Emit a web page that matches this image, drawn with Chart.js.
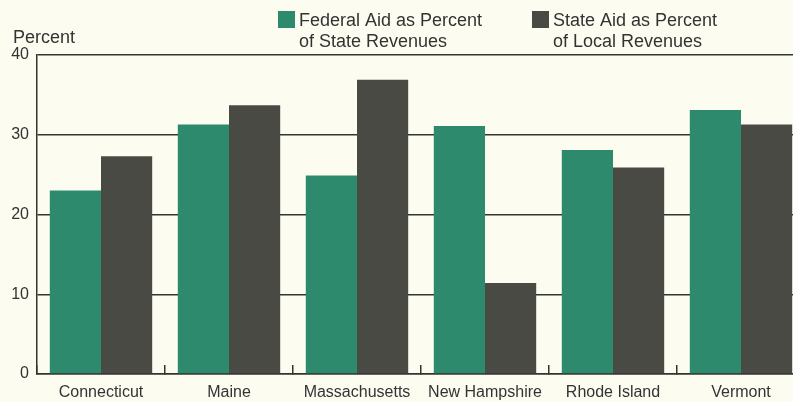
<!DOCTYPE html>
<html>
<head>
<meta charset="utf-8">
<script src="https://cdn.jsdelivr.net/npm/chart.js@4"></script>
<style>
  html, body { margin: 0; padding: 0; background: #fdfcf0; overflow: hidden; }
  #wrap { width: 806px; height: 402px; position: relative; }
</style>
</head>
<body>
<div id="wrap"><canvas id="c" width="806" height="402"></canvas></div>
<script>
const categories = ["Connecticut", "Maine", "Massachusetts", "New Hampshire", "Rhode Island", "Vermont"];
const federalAid = [23.0, 31.3, 24.9, 31.1, 28.1, 33.1];
const stateAid = [27.3, 33.7, 36.9, 11.4, 25.9, 31.3];
const seriesLabels = [
  ["Federal Aid as Percent", "of State Revenues"],
  ["State Aid as Percent", "of Local Revenues"]
];
const yTicks = [0, 10, 20, 30, 40];
const axisTitle = "Percent";

const GREEN = "#2e8a6d";
const DARK = "#4a4a45";
const INK = "#35352f";
const FONT = "'Liberation Sans', Arial, sans-serif";

const legendPlugin = {
  id: "customLegend",
  afterDraw(chart) {
    const ctx = chart.ctx;
    ctx.save();
    const starts = [278, 532];
    chart.data.datasets.forEach((ds, i) => {
      const x = starts[i];
      ctx.fillStyle = ds.backgroundColor;
      ctx.fillRect(x, 11, 17, 17);
      ctx.fillStyle = "#333";
      ctx.font = "18px " + FONT;
      ctx.textBaseline = "alphabetic";
      ctx.textAlign = "left";
      ds.label.forEach((line, j) => {
        ctx.fillText(line, x + 21, 26 + j * 21);
      });
    });
    ctx.font = "18px " + FONT;
    ctx.fillStyle = "#333";
    ctx.fillText(axisTitle, 13, 43);
    ctx.restore();
  }
};

new Chart(document.getElementById("c"), {
  type: "bar",
  data: {
    labels: categories,
    datasets: [
      { label: seriesLabels[0], data: federalAid, backgroundColor: GREEN, borderWidth: 0 },
      { label: seriesLabels[1], data: stateAid, backgroundColor: DARK, borderWidth: 0 }
    ]
  },
  options: {
    responsive: false,
    animation: false,
    devicePixelRatio: 1,
    layout: { padding: { top: 55, right: 1, left: 0, bottom: 0 } },
    plugins: { legend: { display: false }, tooltip: { enabled: false } },
    datasets: { bar: { categoryPercentage: 0.8, barPercentage: 1.0 } },
    scales: {
      x: {
        afterFit(s) { s.height = 28; },
        grid: { offset: true, drawOnChartArea: false, drawTicks: true, tickLength: -9, color: INK, lineWidth: 1.5 },
        border: { display: true, color: INK, width: 1.5 },
        ticks: { color: "#333", font: { family: FONT, size: 16 }, padding: 18, maxRotation: 0 }
      },
      y: {
        min: 0, max: 40,
        afterFit(s) { s.width = 37; },
        afterBuildTicks(s) { s.ticks = yTicks.map(v => ({ value: v })); },
        grid: { drawTicks: false, color: INK, lineWidth: 1.5 },
        border: { display: true, color: INK, width: 1.5 },
        ticks: { color: "#333", font: { family: FONT, size: 16 }, padding: 8 }
      }
    }
  },
  plugins: [legendPlugin]
});
</script>
</body>
</html>
